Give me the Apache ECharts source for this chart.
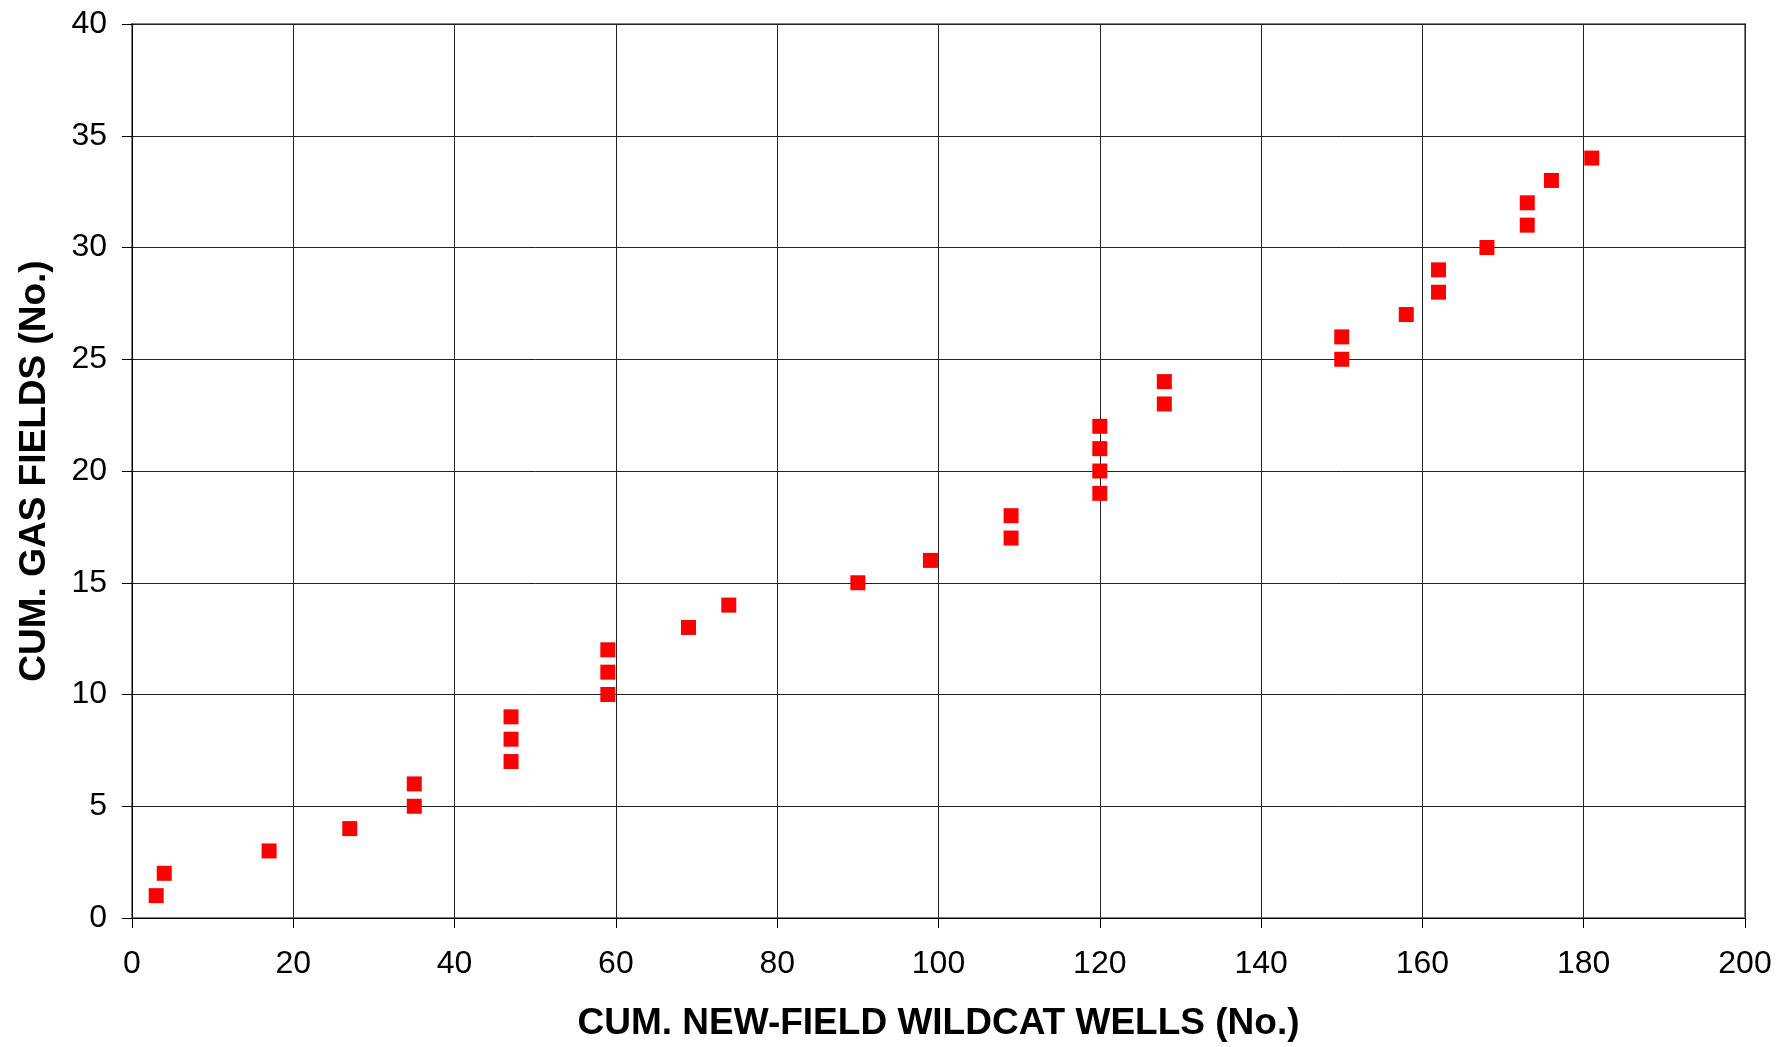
<!DOCTYPE html>
<html>
<head>
<meta charset="utf-8">
<script src="https://cdn.jsdelivr.net/npm/echarts@6/dist/echarts.min.js"></script>
<style>
html,body{margin:0;padding:0;background:#fff;}
#chart{width:1777px;height:1047px;}
</style>
</head>
<body>
<div id="chart"></div>
<script>
// Cumulative new-field wildcat wells (x) and cumulative gas fields (y)
const wells  = [3, 4, 17, 27, 35, 35, 47, 47, 47, 59, 59, 59, 69, 74, 90, 99, 109, 109, 120, 120, 120, 120, 128, 128, 150, 150, 158, 162, 162, 168, 173, 173, 176, 181];
const fields = [1, 2, 3, 4, 5, 6, 7, 8, 9, 10, 11, 12, 13, 14, 15, 16, 17, 18, 19, 20, 21, 22, 23, 24, 25, 26, 27, 28, 29, 30, 31, 32, 33, 34];
const xTitle = 'CUM. NEW-FIELD WILDCAT WELLS (No.)';
const yTitle = 'CUM. GAS FIELDS (No.)';

const points = wells.map((w, i) => [w, fields[i]]);
const chart = echarts.init(document.getElementById('chart'), null, {renderer: 'canvas'});
const font = 'Arial, "Liberation Sans", sans-serif';
chart.setOption({
  animation: false,
  backgroundColor: '#ffffff',
  grid: {left: 132, right: 32, top: 24, bottom: 127, show: true, borderColor: '#808080', borderWidth: 2, backgroundColor: 'transparent'},
  xAxis: {
    type: 'value', min: 0, max: 200, interval: 20,
    name: xTitle, nameLocation: 'middle', nameGap: 87,
    nameTextStyle: {fontFamily: font, fontWeight: 'bold', fontSize: 37, color: '#000'},
    axisLine: {show: true, onZero: false, lineStyle: {color: '#000', width: 1}},
    axisTick: {show: true, inside: false, length: 10, lineStyle: {color: '#000'}},
    axisLabel: {fontFamily: font, fontSize: 32, color: '#000', margin: 30},
    splitLine: {show: true, lineStyle: {color: '#222', width: 1}}
  },
  yAxis: {
    type: 'value', min: 0, max: 40, interval: 5,
    name: yTitle, nameLocation: 'middle', nameGap: 79, nameRotate: 90,
    nameTextStyle: {fontFamily: font, fontWeight: 'bold', fontSize: 37, color: '#000'},
    axisLine: {show: true, onZero: false, lineStyle: {color: '#000', width: 1}},
    axisTick: {show: true, inside: false, length: 10, lineStyle: {color: '#000'}},
    axisLabel: {fontFamily: font, fontSize: 32, color: '#000', margin: 25},
    splitLine: {show: true, lineStyle: {color: '#222', width: 1}}
  },
  series: [{
    type: 'scatter',
    data: points,
    symbol: 'rect',
    symbolSize: 15,
    itemStyle: {color: '#ff0000', opacity: 1}
  }]
});
</script>
</body>
</html>
